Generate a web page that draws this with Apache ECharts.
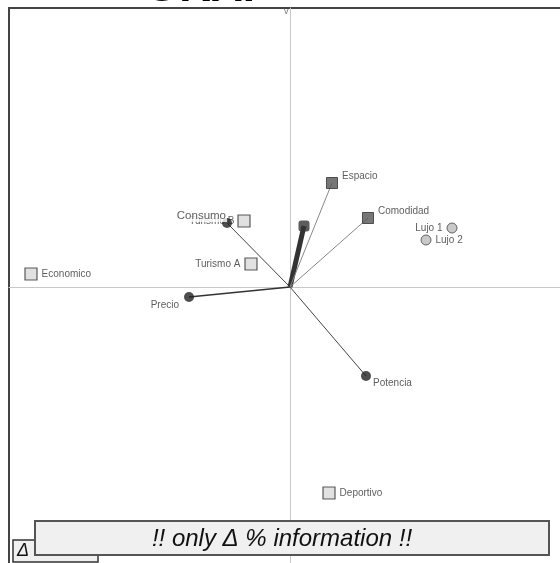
<!DOCTYPE html>
<html>
<head>
<meta charset="utf-8">
<script src="https://cdn.jsdelivr.net/npm/echarts@6/dist/echarts.min.js"></script>
<style>
  html, body { margin: 0; padding: 0; background: #fff; }
  #chart { width: 560px; height: 563px; }
</style>
</head>
<body>
<div id="chart"></div>
<script>
// Variables drawn as vectors from the origin
const vectorNames = ['Consumo', 'Precio', 'Potencia', ''];
const vectorX = [-0.63, -1.01, 0.76, 0.14];
const vectorY = [0.64, -0.10, -0.89, 0.61];

// Attributes drawn as dark squares (also joined to the origin)
const attrNames = ['Espacio', 'Comodidad'];
const attrX = [0.42, 0.78];
const attrY = [1.04, 0.69];

// Segments drawn as light squares
const segNames = ['Turismo B', 'Turismo A', 'Economico', 'Deportivo'];
const segX = [-0.46, -0.39, -2.59, 0.39];
const segY = [0.66, 0.23, 0.13, -2.06];

// Luxury models drawn as grey circles
const luxNames = ['Lujo 1', 'Lujo 2'];
const luxX = [1.62, 1.36];
const luxY = [0.59, 0.47];

const font = 'Liberation Sans';
const labelBase = { show: true, fontFamily: font, fontSize: 10, color: '#333' };

const chart = echarts.init(document.getElementById('chart'));

const vectorLineStyles = [
  { color: '#444', width: 1, opacity: 1 },
  { color: '#333', width: 1.6, opacity: 1 },
  { color: '#444', width: 1, opacity: 1 },
  { color: '#333', width: 5, opacity: 1 }
];

const lineData = [];
vectorNames.forEach((n, i) => {
  lineData.push({ coords: [[0, 0], [vectorX[i], vectorY[i]]], lineStyle: vectorLineStyles[i] });
});
attrNames.forEach((n, i) => {
  lineData.push({ coords: [[0, 0], [attrX[i], attrY[i]]], lineStyle: { color: '#888', width: 1, opacity: 1 } });
});

const vectorLabels = [
  { position: 'left', distance: 0, offset: [5, -7], fontSize: 11.5, backgroundColor: '#fff', padding: [0, 1, 0, 1] },
  { position: 'left', distance: 5, offset: [0, 8] },
  { position: 'right', distance: 2, offset: [0, 7] },
  { show: false }
];

const segLabels = [
  { position: 'left', distance: 3 },
  { position: 'left', distance: 4 },
  { position: 'right', distance: 4 },
  { position: 'right', distance: 4 }
];

chart.setOption({
  animation: false,
  grid: {
    left: 9, top: 8, width: 560, height: 560,
    outerBoundsMode: 'none',
    containLabel: false,
    show: true, borderColor: '#444', borderWidth: 2, backgroundColor: '#fff'
  },
  xAxis: {
    type: 'value', min: -2.81, max: 2.79,
    axisLine: { show: true, onZero: true, lineStyle: { color: '#c8c8c8', width: 1 } },
    axisTick: { show: false }, axisLabel: { show: false }, splitLine: { show: false }
  },
  yAxis: {
    type: 'value', min: -2.81, max: 2.79,
    axisLine: { show: true, onZero: true, lineStyle: { color: '#c8c8c8', width: 1 } },
    axisTick: { show: false }, axisLabel: { show: false }, splitLine: { show: false }
  },
  series: [
    {
      type: 'lines',
      coordinateSystem: 'cartesian2d',
      z: 2,
      data: lineData
    },
    {
      type: 'scatter',
      z: 3,
      symbol: 'rect',
      symbolSize: 12,
      itemStyle: { color: '#d9d9d9', borderColor: '#333', borderWidth: 1.2 },
      data: segNames.map((n, i) => ({
        name: n, value: [segX[i], segY[i]],
        label: Object.assign({}, labelBase, segLabels[i], { formatter: n })
      }))
    },
    {
      type: 'scatter',
      z: 4,
      symbol: 'rect',
      symbolSize: 11,
      itemStyle: { color: '#555', borderColor: '#333', borderWidth: 1 },
      data: attrNames.map((n, i) => ({
        name: n, value: [attrX[i], attrY[i]],
        label: Object.assign({}, labelBase, { position: 'right', distance: 4, offset: [0, -7], formatter: n })
      }))
    },
    {
      type: 'scatter',
      z: 4,
      symbol: 'circle',
      symbolSize: 10,
      itemStyle: { color: '#bbb', borderColor: '#444', borderWidth: 1 },
      data: luxNames.map((n, i) => ({
        name: n, value: [luxX[i], luxY[i]],
        label: Object.assign({}, labelBase, { position: i === 0 ? 'left' : 'right', distance: 4, formatter: n })
      }))
    },
    {
      type: 'scatter',
      z: 5,
      symbol: 'circle',
      symbolSize: 10,
      itemStyle: { color: '#222' },
      data: vectorNames.map((n, i) => ({
        name: n, value: [vectorX[i], vectorY[i]],
        symbol: n === '' ? 'roundRect' : 'circle',
        symbolSize: n === '' ? 11 : 10,
        itemStyle: n === '' ? { color: '#333' } : undefined,
        label: Object.assign({}, labelBase, vectorLabels[i], { formatter: n })
      }))
    }
  ],
  graphic: [
    {
      type: 'text', left: 145, top: -33, z: 10,
      style: { text: 'GRAF', font: 'bold 44px "Liberation Sans"', fill: '#000' }
    },
    {
      type: 'text', left: 284, top: 7, z: 10,
      style: { text: 'v', font: '9px "Liberation Sans"', fill: '#777' }
    },
    {
      type: 'rect', z: 20,
      shape: { x: 13, y: 540, width: 85, height: 22 },
      style: { fill: '#f0f0f0', stroke: '#333', lineWidth: 1.5 }
    },
    {
      type: 'text', z: 21, left: 17, top: 542,
      style: { text: 'Δ', font: 'italic 18px "Liberation Sans"', fill: '#111' }
    },
    {
      type: 'rect', z: 22,
      shape: { x: 35, y: 521, width: 514, height: 34 },
      style: { fill: '#f0f0f0', stroke: '#555', lineWidth: 2 }
    },
    {
      type: 'text', z: 23, x: 282, y: 539,
      style: {
        text: '!! only Δ % information !!',
        font: 'italic 24px "Liberation Sans"', fill: '#111',
        textAlign: 'center', textVerticalAlign: 'middle'
      }
    }
  ]
});
</script>
</body>
</html>
